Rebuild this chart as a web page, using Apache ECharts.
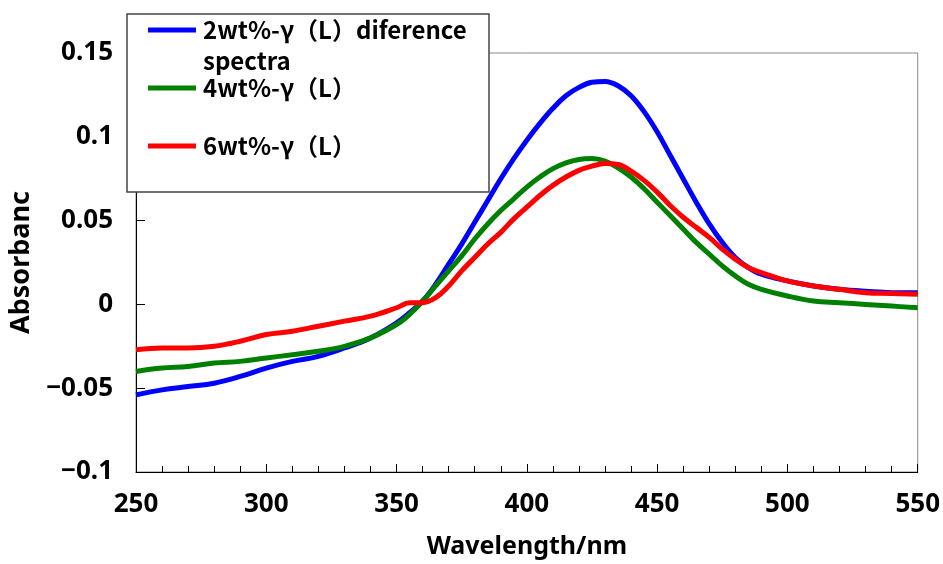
<!DOCTYPE html>
<html>
<head>
<meta charset="utf-8">
<script src="https://cdn.jsdelivr.net/npm/echarts@6/dist/echarts.min.js"></script>
<style>
  html, body { margin: 0; padding: 0; background: #fff; }
  #chart { width: 943px; height: 564px; }
</style>
</head>
<body>
<div id="chart"></div>
<script>
// wavelength (nm) shared by the three spectra
const wavelength = [250, 260, 270, 280, 290, 300, 310, 320, 330, 340,
  350, 355, 360, 365, 370, 375, 380, 385, 390, 395, 400, 405, 410, 415, 420, 425, 430, 435, 440, 445, 450, 455, 460,
  465, 470, 475, 480, 485, 490, 500, 510, 520, 530, 540, 550]

const absorb2 = [-0.054, -0.051, -0.049, -0.047, -0.043, -0.038, -0.034, -0.031, -0.026, -0.020,
  -0.011, -0.005, 0.002, 0.012, 0.024, 0.036, 0.049, 0.062, 0.075, 0.087, 0.098, 0.108, 0.117, 0.1245, 0.1295, 0.1325, 0.133, 0.1305, 0.1245, 0.115, 0.103, 0.089, 0.075,
  0.061, 0.048, 0.037, 0.028, 0.022, 0.018, 0.014, 0.011, 0.009, 0.0078, 0.007, 0.007]

const absorb4 = [-0.040, -0.038, -0.037, -0.035, -0.034, -0.032, -0.030, -0.028, -0.025, -0.020,
  -0.012, -0.006, 0.002, 0.011, 0.020, 0.029, 0.039, 0.048, 0.056, 0.063, 0.070, 0.076, 0.081, 0.0845, 0.0865, 0.087, 0.0855, 0.0815, 0.076, 0.069, 0.061, 0.053, 0.045,
  0.037, 0.030, 0.023, 0.017, 0.012, 0.009, 0.005, 0.002, 0.001, 0.000, -0.001, -0.002]

const absorb6 = [-0.027, -0.026, -0.026, -0.025, -0.022, -0.018, -0.016, -0.013, -0.010, -0.007,
  -0.002, 0.001, 0.001, 0.004, 0.011, 0.020, 0.028, 0.036, 0.043, 0.051, 0.058, 0.065, 0.071, 0.076, 0.080, 0.0825, 0.084, 0.0835, 0.0795, 0.074, 0.067, 0.059, 0.052,
  0.046, 0.040, 0.033, 0.027, 0.022, 0.019, 0.014, 0.011, 0.009, 0.007, 0.0065, 0.006]

const seriesNames = ['2wt%-γ（L）diference', '4wt%-γ（L）', '6wt%-γ（L）']
const seriesColors = ['#0000ff', '#008000', '#ff0000']

const axisFont = "'Noto Sans', sans-serif"
const cjkFont = "'Noto Sans CJK JP', sans-serif"

const pairs = (ys) => wavelength.map((x, i) => [x, ys[i]])

const chart = echarts.init(document.getElementById('chart'))

const legendTops = [15, 73, 131]
const legends = seriesNames.map((name, i) => ({
  data: [name],
  left: 148,
  top: legendTops[i],
  padding: 0,
  z: 20,
  icon: 'rect',
  itemWidth: 48,
  itemHeight: 5,
  itemGap: 0,
  selectedMode: false,
  textStyle: {
    fontFamily: cjkFont,
    fontWeight: 'bold',
    fontSize: 24,
    lineHeight: 30,
    color: '#000',
    padding: [0, 0, 0, 2],
  },
}))

const option = {
  animation: false,
  backgroundColor: '#fff',
  grid: {
    left: 136,
    top: 53,
    right: 24,
    bottom: 90,
    show: true,
    borderColor: '#888',
    borderWidth: 1,
  },
  legend: legends,
  graphic: [
    {
      type: 'rect',
      z: 10,
      shape: { x: 127, y: 14, width: 362, height: 178 },
      style: { fill: '#fff', stroke: '#444', lineWidth: 1.5 },
    },
    {
      type: 'text',
      z: 20,
      left: 203,
      top: 49,
      style: {
        text: 'spectra',
        fontFamily: cjkFont,
        fontWeight: 'bold',
        fontSize: 24,
        fill: '#000',
      },
    },
  ],
  xAxis: {
    type: 'value',
    min: 250,
    max: 550,
    interval: 50,
    name: 'Wavelength/nm',
    nameLocation: 'middle',
    nameGap: 62,
    nameTextStyle: { fontFamily: axisFont, fontWeight: 'bold', fontSize: 25, color: '#000' },
    axisLine: { onZero: false, lineStyle: { color: '#000', width: 1 } },
    axisTick: { inside: true, length: 8, lineStyle: { color: '#000' } },
    minorTick: { show: true, splitNumber: 5, length: 6, lineStyle: { color: '#000' } },
    splitLine: { show: false },
    axisLabel: { margin: 20, fontFamily: axisFont, fontWeight: 'bold', fontSize: 26, color: '#000' },
  },
  yAxis: {
    type: 'value',
    min: -0.1,
    max: 0.15,
    interval: 0.05,
    name: 'Absorbanc',
    nameLocation: 'middle',
    nameRotate: 90,
    nameGap: 99,
    nameTextStyle: { fontFamily: axisFont, fontWeight: 'bold', fontSize: 27, color: '#000', padding: [0, 0, 0, 0] },
    axisLine: { onZero: false, lineStyle: { color: '#000', width: 1 } },
    axisTick: { inside: true, length: 9, lineStyle: { color: '#000' } },
    splitLine: { show: false },
    axisLabel: {
      margin: 23,
      fontFamily: axisFont,
      fontWeight: 'bold',
      fontSize: 26,
      color: '#000',
      formatter: (v) => String(+v.toFixed(2)).replace('-', '−'),
    },
  },
  series: [absorb2, absorb4, absorb6].map((ys, i) => ({
    name: seriesNames[i],
    type: 'line',
    data: pairs(ys),
    showSymbol: false,
    smooth: 0.4,
    color: seriesColors[i],
    lineStyle: { width: 5, color: seriesColors[i] },
  })),
}

chart.setOption(option)
</script>
</body>
</html>
